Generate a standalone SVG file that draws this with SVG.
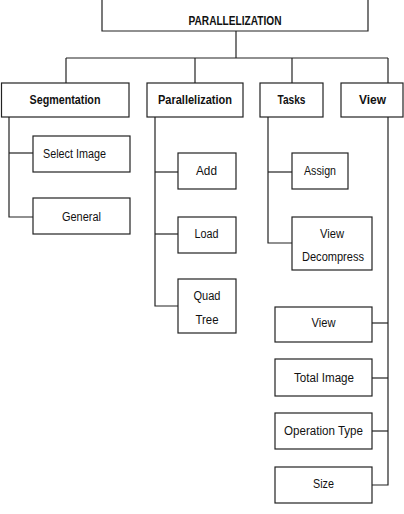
<svg xmlns="http://www.w3.org/2000/svg" width="404" height="514" viewBox="0 0 404 514">
  <style>
    .box { fill: #ffffff; stroke: #222222; stroke-width: 1.2; }
    .wire { fill: none; stroke: #222222; stroke-width: 1.2; }
    .head { font-family: "Liberation Sans", Arial, sans-serif; font-weight: bold; font-size: 13px; fill: #111111; text-anchor: middle; }
    .item { font-family: "Liberation Sans", Arial, sans-serif; font-size: 12.5px; fill: #111111; text-anchor: middle; }
  </style>
  <rect width="404" height="514" fill="#ffffff"/>

  <!-- connectors -->
  <g id="connectors" class="wire">
    <!-- root bracket and main bus -->
    <polyline points="102,0 102,31 368,31 368,0"/>
    <line x1="236" y1="31" x2="236" y2="58"/>
    <line x1="66" y1="58" x2="388" y2="58"/>
    <line x1="66" y1="58" x2="66" y2="83"/>
    <line x1="195" y1="58" x2="195" y2="83"/>
    <line x1="292" y1="58" x2="292" y2="83"/>
    <line x1="388" y1="58" x2="388" y2="83"/>
    <!-- Segmentation branch -->
    <polyline points="9,117 9,217 33,217"/>
    <line x1="9" y1="153" x2="33" y2="153"/>
    <!-- Parallelization branch -->
    <polyline points="155,117 155,306 178,306"/>
    <line x1="155" y1="172" x2="178" y2="172"/>
    <line x1="155" y1="234" x2="178" y2="234"/>
    <!-- Tasks branch -->
    <polyline points="268,117 268,243 292,243"/>
    <line x1="268" y1="172" x2="292" y2="172"/>
    <!-- View branch -->
    <polyline points="388,117 388,485 372,485"/>
    <line x1="372" y1="323" x2="388" y2="323"/>
    <line x1="372" y1="378" x2="388" y2="378"/>
    <line x1="372" y1="431" x2="388" y2="431"/>
  </g>

  <g id="root">
    <text class="head" x="235" y="25" font-size="14" textLength="93" lengthAdjust="spacingAndGlyphs">PARALLELIZATION</text>
  </g>

  <g id="segmentation">
    <rect class="box" x="1.5" y="83" width="127.5" height="34"/>
    <text class="head" x="65" y="104" textLength="71" lengthAdjust="spacingAndGlyphs">Segmentation</text>
  </g>
  <g id="parallelization">
    <rect class="box" x="147" y="83" width="96" height="34"/>
    <text class="head" x="195" y="104" textLength="74" lengthAdjust="spacingAndGlyphs">Parallelization</text>
  </g>
  <g id="tasks">
    <rect class="box" x="260" y="83" width="63" height="34"/>
    <text class="head" x="291.5" y="104" textLength="28" lengthAdjust="spacingAndGlyphs">Tasks</text>
  </g>
  <g id="view">
    <rect class="box" x="341" y="83" width="62" height="34"/>
    <text class="head" x="372.5" y="104" textLength="27" lengthAdjust="spacingAndGlyphs">View</text>
  </g>

  <g id="select-image">
    <rect class="box" x="33" y="136" width="97" height="36"/>
    <text class="item" x="74.5" y="158" textLength="63" lengthAdjust="spacingAndGlyphs">Select Image</text>
  </g>
  <g id="general">
    <rect class="box" x="33" y="198" width="97" height="36"/>
    <text class="item" x="81.5" y="221" textLength="39" lengthAdjust="spacingAndGlyphs">General</text>
  </g>

  <g id="add">
    <rect class="box" x="178" y="153" width="58" height="36"/>
    <text class="item" x="206.5" y="175" textLength="21" lengthAdjust="spacingAndGlyphs">Add</text>
  </g>
  <g id="load">
    <rect class="box" x="178" y="217" width="58" height="36"/>
    <text class="item" x="206.5" y="238" textLength="24" lengthAdjust="spacingAndGlyphs">Load</text>
  </g>
  <g id="quad-tree">
    <rect class="box" x="178" y="279" width="58" height="54"/>
    <text class="item" x="207" y="300" textLength="27" lengthAdjust="spacingAndGlyphs">Quad</text>
    <text class="item" x="207" y="324" textLength="23" lengthAdjust="spacingAndGlyphs">Tree</text>
  </g>

  <g id="assign">
    <rect class="box" x="292" y="153" width="56" height="36"/>
    <text class="item" x="320" y="175" textLength="32" lengthAdjust="spacingAndGlyphs">Assign</text>
  </g>
  <g id="view-decompress">
    <rect class="box" x="292" y="217" width="80" height="53"/>
    <text class="item" x="332" y="238" textLength="24" lengthAdjust="spacingAndGlyphs">View</text>
    <text class="item" x="333" y="261" textLength="62" lengthAdjust="spacingAndGlyphs">Decompress</text>
  </g>

  <g id="view-item">
    <rect class="box" x="275" y="307" width="97" height="35"/>
    <text class="item" x="323.5" y="327" textLength="24" lengthAdjust="spacingAndGlyphs">View</text>
  </g>
  <g id="total-image">
    <rect class="box" x="275" y="359" width="97" height="37"/>
    <text class="item" x="324" y="382" textLength="60" lengthAdjust="spacingAndGlyphs">Total Image</text>
  </g>
  <g id="operation-type">
    <rect class="box" x="275" y="413" width="97" height="36"/>
    <text class="item" x="323.5" y="435" textLength="79" lengthAdjust="spacingAndGlyphs">Operation Type</text>
  </g>
  <g id="size">
    <rect class="box" x="275" y="467" width="97" height="36"/>
    <text class="item" x="323.5" y="488" textLength="21" lengthAdjust="spacingAndGlyphs">Size</text>
  </g>
</svg>
